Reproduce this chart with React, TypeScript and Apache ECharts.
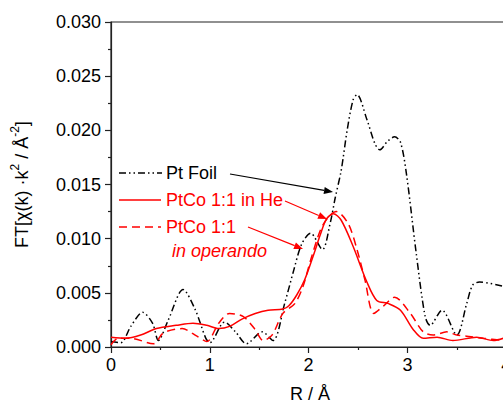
import React, { useEffect, useRef } from "react";
import * as echarts from "echarts";

const ptFoilR = [0, 0.1, 0.2, 0.32, 0.42, 0.48, 0.58, 0.73, 0.85, 0.96, 1.0, 1.15, 1.26, 1.37, 1.53, 1.64, 1.76, 1.85, 1.93, 2.02, 2.14, 2.22, 2.27, 2.33, 2.39, 2.45, 2.49, 2.59, 2.67, 2.72, 2.8, 2.87, 2.93, 2.99, 3.09, 3.18, 3.23, 3.35, 3.5, 3.6, 3.66, 3.73, 3.97];
const ptFoilFT = [0.0005, 0.0004, 0.0019, 0.0032, 0.0022, 0.0006, 0.0025, 0.0053, 0.0035, 0.0008, 0.0004, 0.0023, 0.0014, 0.0003, 0.0014, 0.0006, 0.0041, 0.0071, 0.0095, 0.0105, 0.009, 0.0115, 0.0138, 0.0163, 0.02, 0.0228, 0.0233, 0.021, 0.0188, 0.0182, 0.019, 0.0194, 0.0189, 0.016, 0.0086, 0.0028, 0.002, 0.0034, 0.0011, 0.004, 0.0057, 0.006, 0.0056];

const heR = [0, 0.15, 0.3, 0.46, 0.66, 0.83, 0.97, 1.09, 1.2, 1.33, 1.46, 1.59, 1.74, 1.8, 1.88, 1.96, 2.05, 2.12, 2.18, 2.25, 2.33, 2.45, 2.59, 2.69, 2.81, 2.93, 3.06, 3.16, 3.3, 3.46, 3.7, 3.87, 3.97];
const heFT = [0.0009, 0.0008, 0.0011, 0.0017, 0.002, 0.0022, 0.002, 0.0017, 0.0019, 0.0026, 0.0031, 0.0034, 0.0035, 0.0038, 0.0048, 0.0062, 0.0085, 0.0104, 0.0118, 0.0123, 0.0117, 0.0093, 0.006, 0.0043, 0.004, 0.0034, 0.0016, 0.0008, 0.0009, 0.0006, 0.0009, 0.0006, 0.0008];

const opR = [0, 0.07, 0.2, 0.43, 0.53, 0.72, 0.87, 0.97, 1.09, 1.2, 1.34, 1.46, 1.54, 1.63, 1.74, 1.86, 1.94, 2.02, 2.12, 2.2, 2.28, 2.4, 2.49, 2.57, 2.66, 2.76, 2.87, 3.03, 3.16, 3.26, 3.4, 3.5, 3.6, 3.77, 3.97];
const opFT = [0.0002, 0.0008, 0.0008, 0.0003, 0.0013, 0.0017, 0.001, 0.0005, 0.0022, 0.0031, 0.0028, 0.0016, 0.0006, 0.0011, 0.0031, 0.004, 0.0055, 0.008, 0.0108, 0.012, 0.0125, 0.0114, 0.009, 0.0062, 0.0031, 0.0038, 0.0046, 0.0031, 0.0014, 0.0011, 0.0014, 0.0011, 0.001, 0.0008, 0.0006];

const xTicks = [0, 1, 2, 3, 4];
const seriesNames = ["Pt Foil", "PtCo 1:1 in He", "PtCo 1:1"];

const FONT = "'Liberation Sans', Arial, sans-serif";
const BLACK_DASH = [7, 3, 1.5, 3, 1.5, 3];
const RED_DASH = [8, 5];

function zip(a: number[], b: number[]) {
  return a.map((v, i) => [v, b[i]]);
}

function arrow(x1: number, y1: number, x2: number, y2: number, color: string) {
  const ang = Math.atan2(y2 - y1, x2 - x1);
  const L = 9, W = 3.5;
  const bx = x2 - L * Math.cos(ang), by = y2 - L * Math.sin(ang);
  const px = -Math.sin(ang) * W, py = Math.cos(ang) * W;
  return [
    { type: "line", shape: { x1, y1, x2: bx, y2: by }, style: { stroke: color, lineWidth: 1.2 } },
    {
      type: "polygon",
      shape: { points: [[x2, y2], [bx + px, by + py], [bx - px, by - py]] },
      style: { fill: color },
    },
  ];
}

export default function App() {
  const ref = useRef<HTMLDivElement>(null);
  useEffect(() => {
    if (!ref.current) return;
    const chart = echarts.init(ref.current, null, { renderer: "svg" });
    const red = "#ff0000";
    const option: any = {
      animation: false,
      backgroundColor: "#fff",
      grid: {
        left: 111, top: 22, width: 444.6, height: 325,
        show: true, borderColor: "#222", borderWidth: 1.2, backgroundColor: "transparent",
      },
      xAxis: {
        type: "value", min: 0, max: 4.5, interval: 1,
        axisLine: { show: true, onZero: false, lineStyle: { color: "#222", width: 1.2 } },
        axisTick: { show: true, length: 6, lineStyle: { color: "#222", width: 1.2 } },
        minorTick: { show: true, splitNumber: 2, length: 3, lineStyle: { color: "#222", width: 1.2 } },
        splitLine: { show: false },
        axisLabel: {
          fontSize: 18, color: "#000", fontFamily: FONT, margin: 9,
          formatter: (v: number) => (xTicks.indexOf(v) >= 0 ? String(v) : ""),
        },
      },
      yAxis: {
        type: "value", min: 0, max: 0.03, interval: 0.005,
        axisLine: { show: true, lineStyle: { color: "#222", width: 1.2 } },
        axisTick: { show: true, length: 6, lineStyle: { color: "#222", width: 1.2 } },
        minorTick: { show: true, splitNumber: 2, length: 3, lineStyle: { color: "#222", width: 1.2 } },
        splitLine: { show: false },
        axisLabel: {
          fontSize: 18, color: "#000", fontFamily: FONT, margin: 10,
          formatter: (v: number) => v.toFixed(3),
        },
        name: "{n|FT[χ(k) ·k}{s|2}{n| / Å}{s|-2}{n|]}",
        nameLocation: "middle",
        nameRotate: 90,
        nameGap: 80,
        nameTextStyle: {
          fontFamily: FONT, color: "#000",
          rich: {
            n: { fontSize: 18, fontFamily: FONT, color: "#000", lineHeight: 22, verticalAlign: "bottom" },
            s: { fontSize: 12, fontFamily: FONT, color: "#000", lineHeight: 22, verticalAlign: "top", padding: [0, 0, 8, 0] },
          },
        },
      },
      series: [
        {
          name: seriesNames[0], type: "line", data: zip(ptFoilR, ptFoilFT), showSymbol: false, smooth: 0.3,
          lineStyle: { color: "#000", width: 1.5, type: BLACK_DASH }, z: 2,
        },
        {
          name: seriesNames[1], type: "line", data: zip(heR, heFT), showSymbol: false, smooth: 0.3,
          lineStyle: { color: red, width: 1.5, type: "solid" }, z: 3,
        },
        {
          name: seriesNames[2], type: "line", data: zip(opR, opFT), showSymbol: false, smooth: 0.3,
          lineStyle: { color: red, width: 1.5, type: RED_DASH }, z: 3,
        },
      ],
      graphic: [
        { type: "line", shape: { x1: 119, y1: 173, x2: 162, y2: 173 }, style: { stroke: "#000", lineWidth: 1.5, lineDash: BLACK_DASH } },
        { type: "text", x: 166, y: 173, style: { text: seriesNames[0], fontSize: 18, fontFamily: FONT, fill: "#000", verticalAlign: "middle" } },
        { type: "line", shape: { x1: 119, y1: 200, x2: 161, y2: 200 }, style: { stroke: red, lineWidth: 1.5 } },
        { type: "text", x: 166, y: 200, style: { text: seriesNames[1], fontSize: 18, fontFamily: FONT, fill: red, verticalAlign: "middle" } },
        { type: "line", shape: { x1: 119, y1: 227, x2: 161, y2: 227 }, style: { stroke: red, lineWidth: 1.5, lineDash: RED_DASH } },
        { type: "text", x: 166, y: 227, style: { text: seriesNames[2], fontSize: 18, fontFamily: FONT, fill: red, verticalAlign: "middle" } },
        { type: "text", x: 172, y: 251, style: { text: "in operando", fontSize: 18, fontStyle: "italic", fontFamily: FONT, fill: red, verticalAlign: "middle" } },
        ...arrow(230, 174, 333, 192, "#000"),
        ...arrow(285, 201, 327, 219, red),
        ...arrow(248, 227, 303, 249, red),
        { type: "text", x: 310, y: 394, style: { text: "R / Å", fontSize: 18, fontFamily: FONT, fill: "#000", align: "center", verticalAlign: "middle" } },
      ],
    };
    chart.setOption(option);
    return () => chart.dispose();
  }, []);
  return (
    <div style={{ position: "fixed", left: 0, top: 0, width: 503, height: 405, overflow: "hidden", background: "#fff" }}>
      <div ref={ref} style={{ width: 580, height: 405 }} />
    </div>
  );
}
